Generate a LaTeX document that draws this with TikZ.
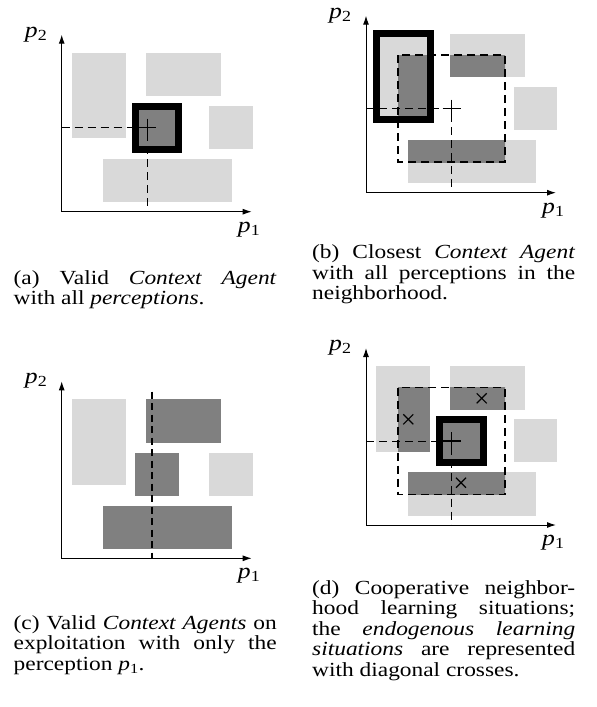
\documentclass[tikz,border=0pt]{standalone}
\usepackage{fontspec}
\setmainfont{Liberation Serif}[FakeStretch=1.17]
\usetikzlibrary{arrows.meta}

\newcommand{\pvar}[1]{\textit{p}\textsubscript{#1}}

\begin{document}
\begin{tikzpicture}[x=1pt, y=-1pt, font=\fontsize{20}{20.6}\selectfont]
  \tikzset{lightbox/.style={fill=black!15},
    darkbox/.style={fill=black!50},
    agentbox/.style={draw=black, line width=7pt},
    neighbour/.style={draw=black, line width=1.5pt, dash pattern=on 8pt off 5pt},
    proj/.style={line width=0.8pt, dash pattern=on 8pt off 5pt},
    cut/.style={line width=2pt, dash pattern=on 7pt off 4.5pt},
    axisline/.style={line width=1pt, arrows={Latex[length=9pt,width=6pt]-Latex[length=9pt,width=6pt]}},
    sample/.style={line width=1.2pt},
    lbl/.style={inner sep=0pt, anchor=base west, font=\fontsize{22}{22}\selectfont},
    caption/.style={inner sep=0pt, anchor=base west, text width=263pt, align=justify}}
  \def\boxL{(10,-159) rectangle (64,-73.4)}
  \def\boxT{(84.3,-159) rectangle (159.3,-115.5)}
  \def\boxR{(147.6,-105.7) rectangle (191,-62.7)}
  \def\boxB{(41.6,-52.7) rectangle (170,-9.4)}
  \def\boxC{(73.5,-105.7) rectangle (117,-62.7)}
  \def\nbhd{(32,-137.5) rectangle (139,-30.5)}

  \useasboundingbox[fill=white] (0,0) rectangle (597,707);

  % (a) valid context agent
  \begin{scope}[shift={(61.7,211.7)}]
    \fill[lightbox] \boxL;
    \fill[lightbox] \boxT;
    \fill[lightbox] \boxR;
    \fill[lightbox] \boxB;
    \filldraw[darkbox, agentbox] \boxC;
    \coordinate (oA) at (0,0);
    \coordinate (topA) at (0,-177);
    \coordinate (endA) at (190,0);
    \coordinate (ptA) at (85.5,-84);
    \draw[axisline] (topA) -- (oA) -- (endA);
    \draw[proj] (ptA -| oA) -- (ptA) -- (ptA |- oA);
    \draw[sample] (ptA) ++(-9,0) -- ++(18,0) (ptA) ++(0,-9) -- ++(0,18);
    \node[lbl] (p1A) at (176,20.5) {\pvar{1}};
    \node[lbl] (p2A) at (-37,-174.5) {\pvar{2}};
  \end{scope}

  % (b) closest context agent
  \begin{scope}[shift={(366,192.7)}]
    \fill[lightbox] \boxL;
    \fill[lightbox] \boxT;
    \fill[lightbox] \boxR;
    \fill[lightbox] \boxB;
    \begin{scope}
      \clip \nbhd;
      \fill[darkbox] \boxL;
      \fill[darkbox] \boxT;
      \fill[darkbox] \boxB;
    \end{scope}
    \draw[neighbour] \nbhd;
    \draw[agentbox] \boxL;
    \coordinate (oB) at (0,0);
    \coordinate (topB) at (0,-177);
    \coordinate (endB) at (190,0);
    \coordinate (ptB) at (85.5,-84);
    \draw[axisline] (topB) -- (oB) -- (endB);
    \draw[proj] (ptB -| oB) -- (ptB) -- (ptB |- oB);
    \draw[sample] (ptB) ++(-9,0) -- ++(18,0) (ptB) ++(0,-9) -- ++(0,18);
    \node[lbl] (p1B) at (176,20.5) {\pvar{1}};
    \node[lbl] (p2B) at (-37,-174.5) {\pvar{2}};
  \end{scope}

  % (c) exploitation with p1 only
  \begin{scope}[shift={(61.7,558.3)}]
    \fill[lightbox] \boxL;
    \fill[darkbox] \boxT;
    \fill[lightbox] \boxR;
    \fill[darkbox] \boxB;
    \fill[darkbox] \boxC;
    \coordinate (oC) at (0,0);
    \coordinate (topC) at (0,-177);
    \coordinate (endC) at (190,0);
    \coordinate (cutC) at (90,-166.6);
    \draw[axisline] (topC) -- (oC) -- (endC);
    \draw[cut] (cutC) -- (cutC |- oC);
    \node[lbl] (p1C) at (176,20.5) {\pvar{1}};
    \node[lbl] (p2C) at (-37,-174.5) {\pvar{2}};
  \end{scope}

  % (d) neighborhood learning situations
  \begin{scope}[shift={(366,525)}]
    \fill[lightbox] \boxL;
    \fill[lightbox] \boxT;
    \fill[lightbox] \boxR;
    \fill[lightbox] \boxB;
    \begin{scope}
      \clip \nbhd;
      \fill[darkbox] \boxL;
      \fill[darkbox] \boxT;
      \fill[darkbox] \boxB;
    \end{scope}
    \draw[neighbour] \nbhd;
    \filldraw[darkbox, agentbox] \boxC;
    \coordinate (oD) at (0,0);
    \coordinate (topD) at (0,-177);
    \coordinate (endD) at (190,0);
    \coordinate (ptD) at (85.5,-84);
    \draw[axisline] (topD) -- (oD) -- (endD);
    \draw[proj] (ptD -| oD) -- (ptD) -- (ptD |- oD);
    \draw[sample] (ptD) ++(-9,0) -- ++(18,0) (ptD) ++(0,-9) -- ++(0,18);
    \foreach \px/\py in {42.3/-105.7, 115.7/-126.7, 95/-42.3}
      \draw[sample] (\px,\py) ++(-5,-5) -- ++(10,10) (\px,\py) ++(-5,5) -- ++(10,-10);
    \node[lbl] (p1D) at (176,20.5) {\pvar{1}};
    \node[lbl] (p2D) at (-37,-174.5) {\pvar{2}};
  \end{scope}

  % captions
  \node[caption] (capA) at (13.5,284.3) {(a) Valid \emph{Context Agent}\linebreak with all \emph{perceptions}.};
  \node[caption] (capB) at (312,258.7) {(b) Closest \emph{Context Agent}\linebreak with all perceptions in the\linebreak neighborhood.};
  \node[caption] (capC) at (13.5,629.3) {(c) Valid \emph{Context Agents} on\linebreak exploitation with only the\linebreak perception \pvar{1}.};
  \node[caption] (capD) at (312,594) {(d) Cooperative neighbor-\linebreak hood learning situations;\linebreak the \emph{endogenous learning}\linebreak \emph{situations} are represented\linebreak with diagonal crosses.};
\end{tikzpicture}
\end{document}
